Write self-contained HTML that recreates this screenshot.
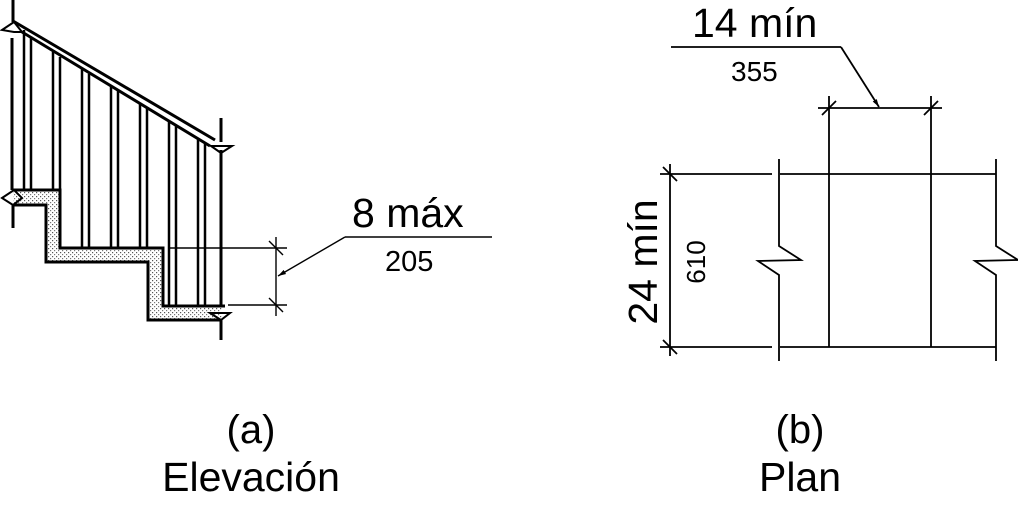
<!DOCTYPE html>
<html><head><meta charset="utf-8"><style>
html,body{margin:0;padding:0;background:#fff;width:1018px;height:509px;overflow:hidden}
svg{display:block}
text{font-family:"Liberation Sans",Arial,sans-serif;fill:#000}
</style></head><body>
<svg width="1018" height="509" viewBox="0 0 1018 509" xmlns="http://www.w3.org/2000/svg">
<defs>
<pattern id="dots" width="4" height="4" patternUnits="userSpaceOnUse">
<rect x="0" y="0" width="1.2" height="1.2" fill="#555"/>
<rect x="2" y="2" width="1.2" height="1.2" fill="#777"/>
</pattern>
<marker id="ar" viewBox="0 0 10 10" refX="10" refY="5" markerWidth="8" markerHeight="8" orient="auto" markerUnits="userSpaceOnUse"><path d="M0,2 L10,5 L0,8z" fill="#000"/></marker>
</defs>
<path d="M13,190 L60,190 L60,248 L163,248 L163,306 L222,306 L222,320 L148,320 L148,262 L46,262 L46,205 L13,205Z" fill="url(#dots)"/>
<g stroke="#000" stroke-width="3" fill="none">
<path d="M13,190 L60,190 L60,248 L163,248 L163,306 L225,306"/>
<path d="M13,205 L46,205 L46,262 L148,262 L148,320 L220,320"/>
<path d="M13,21 L215,140"/>
<path d="M22,32 L210,146"/>
<path d="M13,0 L13,22"/>
<path d="M12,38 L12,190"/>
<path d="M13,205 L13,228"/>
<path d="M221,118 L221,142"/>
<path d="M221,150 L221,306"/>
<path d="M221,320 L221,340"/>
</g>
<g stroke="#000" stroke-width="2" fill="none">
<path d="M2,30 L14,22 L22,32 L14,32 Z"/>
<path d="M211,146 L232,146 L221,153 Z"/>
<path d="M2,198 L14,190 L22,198 L13,205 Z"/>
<path d="M210,313 L230,313 L221,320 Z"/>
</g>
<g stroke="#000" stroke-width="2.5">
<line x1="24" y1="30" x2="24" y2="190"/><line x1="31" y1="37" x2="31" y2="190"/>
<line x1="53" y1="52" x2="53" y2="190"/><line x1="60" y1="57" x2="60" y2="190"/>
<line x1="82" y1="69" x2="82" y2="248"/><line x1="89" y1="74" x2="89" y2="248"/>
<line x1="111" y1="87" x2="111" y2="248"/><line x1="118" y1="91" x2="118" y2="248"/>
<line x1="140" y1="104" x2="140" y2="248"/><line x1="147" y1="108" x2="147" y2="248"/>
<line x1="169" y1="122" x2="169" y2="306"/><line x1="176" y1="126" x2="176" y2="306"/>
<line x1="198" y1="139" x2="198" y2="306"/><line x1="205" y1="143" x2="205" y2="306"/>
</g>
<g stroke="#000" stroke-width="1.4" fill="none">
<line x1="168" y1="248" x2="287" y2="248"/>
<line x1="228" y1="305" x2="287" y2="305"/>
<line x1="276" y1="237" x2="276" y2="316"/>
<line x1="269" y1="241" x2="283" y2="255"/>
<line x1="269" y1="298" x2="283" y2="312"/>
<line x1="345" y1="237" x2="492" y2="237"/>
<line x1="345" y1="237" x2="278" y2="276" marker-end="url(#ar)"/>
</g>
<text x="352" y="227" font-size="41">8 máx</text>
<text x="385" y="271" font-size="29">205</text>
<g stroke="#000" stroke-width="1.8" fill="none">
<line x1="660" y1="174" x2="772" y2="174"/>
<line x1="780" y1="174" x2="996" y2="174"/>
<line x1="660" y1="347" x2="772" y2="347"/>
<line x1="780" y1="347" x2="996" y2="347"/>
<line x1="670" y1="164" x2="670" y2="356"/>
<line x1="663" y1="167" x2="677" y2="181"/>
<line x1="663" y1="340" x2="677" y2="354"/>
<path d="M779,159 L779,246 L801,260 L758,261 L779,275 L779,361"/>
<path d="M996,159 L996,246 L1018,260 L975,261 L996,275 L996,361"/>
<line x1="829" y1="96" x2="829" y2="347"/>
<line x1="931" y1="96" x2="931" y2="347"/>
<line x1="818" y1="108" x2="942" y2="108"/>
<line x1="822" y1="115" x2="836" y2="101"/>
<line x1="924" y1="115" x2="938" y2="101"/>
<line x1="671" y1="47" x2="841" y2="47"/>
<line x1="841" y1="47" x2="879" y2="107" marker-end="url(#ar)"/>
</g>
<text x="692" y="37" font-size="41">14 mín</text>
<text x="731" y="81" font-size="28">355</text>
<text transform="translate(657,262) rotate(-90)" text-anchor="middle" font-size="41">24 mín</text>
<text transform="translate(705,262) rotate(-90)" text-anchor="middle" font-size="26">610</text>
<text x="251" y="443" text-anchor="middle" font-size="40">(a)</text>
<text x="251" y="491" text-anchor="middle" font-size="41">Elevación</text>
<text x="800" y="443" text-anchor="middle" font-size="40">(b)</text>
<text x="800" y="491" text-anchor="middle" font-size="41">Plan</text>
</svg>
</body></html>
